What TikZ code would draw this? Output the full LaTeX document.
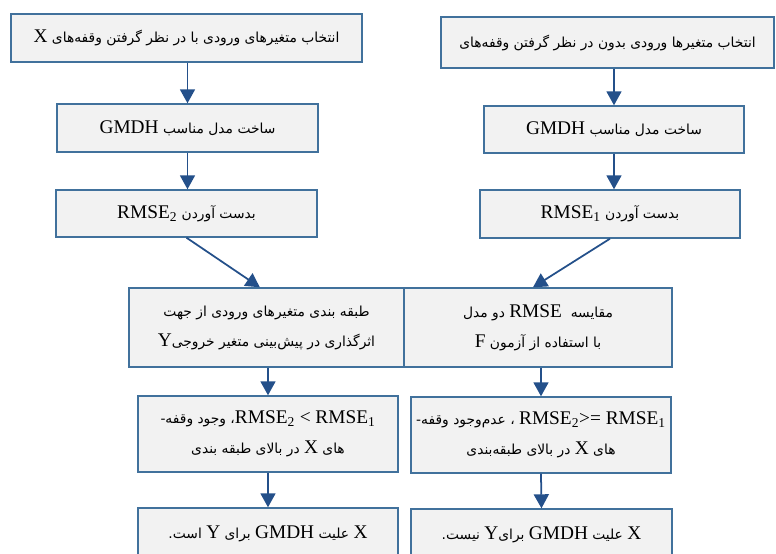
\documentclass[tikz,border=0pt]{standalone}
\usepackage{fontspec}
\setmainfont{Liberation Serif}
\newfontfamily\fafont[Script=Arabic]{DejaVu Sans}
\newfontfamily\latfont{Liberation Serif}
\TeXXeTstate=1
\usetikzlibrary{arrows.meta}
\definecolor{frame}{HTML}{41719C}
\definecolor{flow} {HTML}{24508A}
\definecolor{cell} {HTML}{F2F2F2}
\newcommand{\la}[1]{{\latfont\fontsize{16.5}{25}\selectfont #1}}
\newcommand{\rmse}[1]{RMSE\textsubscript{#1}}
\newcommand{\zw}{^^^^200c}
\tikzset{
    stepbox/.style={draw=frame, fill=cell, line width=1.2pt, align=center,
        inner sep=0pt, font=\fafont\fontsize{11.8}{25.5}\selectfont},
    flowline/.style={draw=flow, line width=1.5pt,
        -{Triangle[width=0.45cm, length=0.42cm]}},
}

\begin{document}
\begin{tikzpicture}
    \useasboundingbox (0, 0) rectangle (23.28, -16.62);
    % left column: with lags of X
    \node[stepbox, minimum width=10.53cm, minimum height=1.44cm] (selx) at (5.595, -1.14)
        {\beginR انتخاب متغیرهای ورودی با در نظر گرفتن وقفه\zw های \la{X}\endR};
    \node[stepbox, minimum width=7.83cm, minimum height=1.44cm] (fitx) at (5.625, -3.84)
        {\beginR ساخت مدل مناسب \la{GMDH}\endR};
    \node[stepbox, minimum width=7.83cm, minimum height=1.41cm] (errx) at (5.595, -6.405)
        {\beginR بدست آوردن \la{\beginL\rmse{2}\endL}\endR};
    % right column: without lags
    \node[stepbox, minimum width=9.99cm, minimum height=1.53cm] (selo) at (18.225, -1.275)
        {\beginR انتخاب متغیرها ورودی بدون در نظر گرفتن وقفه\zw های\endR};
    \node[stepbox, minimum width=7.8cm, minimum height=1.41cm] (fito) at (18.42, -3.885)
        {\beginR ساخت مدل مناسب \la{GMDH}\endR};
    \node[stepbox, minimum width=7.8cm, minimum height=1.44cm] (erro) at (18.3, -6.42)
        {\beginR بدست آوردن \la{\beginL\rmse{1}\endL}\endR};
    % joint step
    \node[stepbox, minimum width=8.25cm, minimum height=2.37cm] (rank) at (7.995, -9.825)
        {\beginR طبقه بندی متغیرهای ورودی از جهت\endR\\
         \beginR اثرگذاری در پیش\zw بینی متغیر خروجی\la{Y}\endR};
    \node[stepbox, minimum width=8.04cm, minimum height=2.37cm] (comp) at (16.14, -9.825)
        {\beginR مقایسه\ \ \la{RMSE} دو مدل\endR\\
         \beginR با استفاده از آزمون \la{F}\endR};
    % outcomes
    \node[stepbox, minimum width=7.8cm, minimum height=2.28cm] (lagy) at (8.04, -13.02)
        {\beginR\la{\beginL\rmse{2} < \rmse{1}\endL}، وجود وقفه{}-\endR\\
         \beginR های \la{X} در بالای طبقه بندی\endR};
    \node[stepbox, minimum width=7.8cm, minimum height=2.28cm] (lagn) at (16.23, -13.05)
        {\beginR\la{\beginL\rmse{2}>= \rmse{1}\endL} ، عدم\zw وجود وقفه{}-\endR\\
         \beginR های \la{X} در بالای طبقه\zw بندی\endR};
    \node[stepbox, minimum width=7.8cm, minimum height=1.56cm] (cauy) at (8.04, -16.02)
        {\beginR\la{X} علیت \la{GMDH} برای \la{Y} است{}.\endR};
    \node[stepbox, minimum width=7.83cm, minimum height=1.56cm] (caun) at (16.245, -16.05)
        {\beginR\la{X} علیت \la{GMDH} برای\la{Y} نیست{}.\endR};

    \draw[flowline] (fitx.north |- selx.south) -- (fitx.north);
    \draw[flowline] (fitx.south) -- (errx.north -| fitx.south);
    \draw[flowline] (fito.north |- selo.south) -- (fito.north);
    \draw[flowline] (fito.south) -- (erro.north -| fito.south);
    \draw[flowline] (errx.south) -- ([xshift=-0.2cm]rank.north);
    \draw[flowline] (erro.south) -- ([xshift=-0.15cm]comp.north);
    \draw[flowline] (lagy.north |- rank.south) -- (lagy.north);
    \draw[flowline] (lagn.north |- comp.south) -- (lagn.north);
    \draw[flowline] (lagy.south) -- (cauy.north);
    \draw[flowline] (lagn.south) -- (caun.north);
\end{tikzpicture}
\end{document}
